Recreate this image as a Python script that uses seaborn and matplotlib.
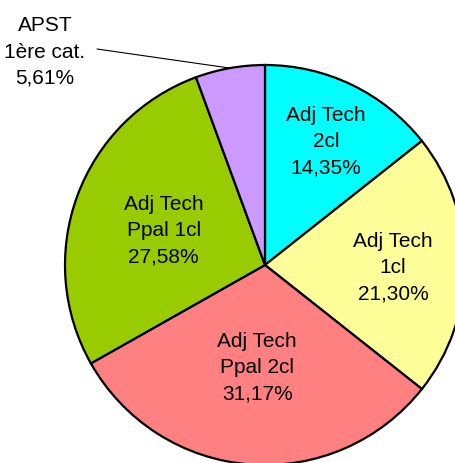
import numpy as np
import matplotlib
matplotlib.use("Agg")
import matplotlib.pyplot as plt
import seaborn as sns

sns.set_theme(style="white")
plt.rcParams['font.family'] = ['Liberation Sans', 'DejaVu Sans']

categories = ["Adj Tech\n2cl", "Adj Tech\n1cl", "Adj Tech\nPpal 2cl", "Adj Tech\nPpal 1cl", "APST\n1ère cat."]
values = [14.35, 21.30, 31.17, 27.58, 5.61]
pct_labels = ["14,35%", "21,30%", "31,17%", "27,58%", "5,61%"]
colors = ["#00FFFF", "#FFFF99", "#FF8080", "#99CC00", "#CC99FF"]
label_radius = [0.70, 0.64, 0.50, 0.54, None]

fig = plt.figure(figsize=(4.56, 4.64), dpi=100)
ax = fig.add_axes([0, 0, 1, 1])
wedges, _ = ax.pie(values, colors=colors, startangle=90, counterclock=False,
                   radius=1.0, center=(0, 0),
                   wedgeprops=dict(edgecolor="black", linewidth=1.6))
ax.set_xlim(-1.325, 0.955)
ax.set_ylim(-0.99, 1.33)
ax.set_aspect('auto')
ax.axis('off')

fs = 15
ls = 1.5
dy = -0.01
for w, cat, pct, r in zip(wedges, categories, pct_labels, label_radius):
    mid = np.deg2rad((w.theta1 + w.theta2) / 2)
    if r is not None:
        ax.text(r * np.cos(mid), r * np.sin(mid) + dy, f"{cat}\n{pct}", ha="center", va="center",
                fontsize=fs, linespacing=ls, color="black")
    else:
        ex, ey = np.cos(mid), np.sin(mid)
        tx, ty = -1.10, 1.08
        ax.plot([ex * 1.0, tx + 0.26], [ey * 1.0, ty], color="black", lw=0.8)
        ax.text(tx, ty + dy, f"{cat}\n{pct}", ha="center", va="center",
                fontsize=fs, linespacing=ls, color="black")

fig.savefig("out.png", dpi=100)
